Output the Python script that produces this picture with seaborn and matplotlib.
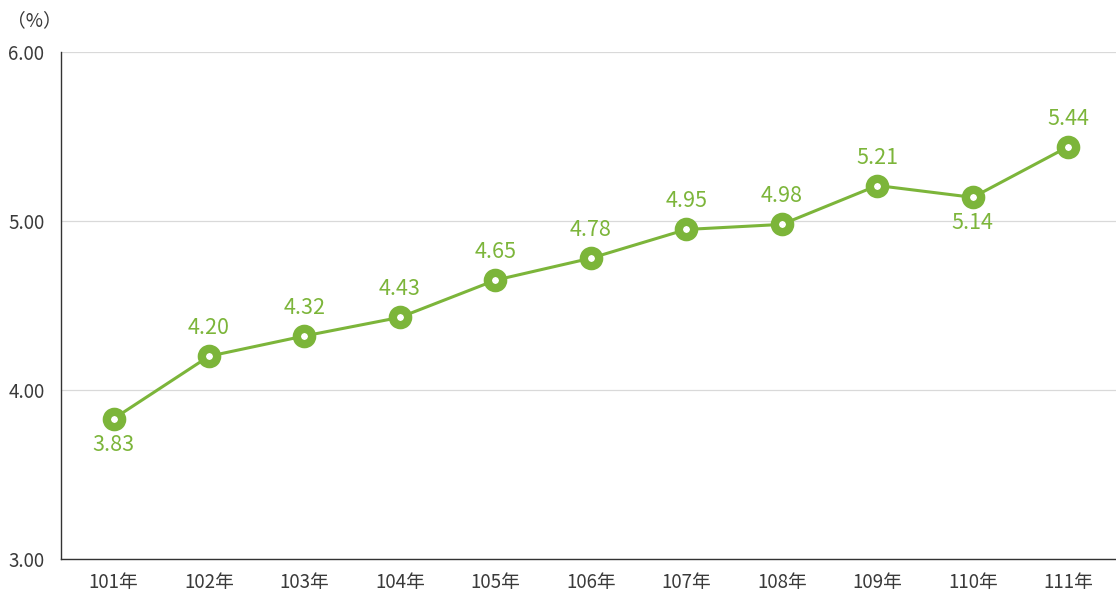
import pandas as pd
import seaborn as sns
import matplotlib.pyplot as plt

# data
years = ["101年", "102年", "103年", "104年", "105年", "106年",
         "107年", "108年", "109年", "110年", "111年"]
rates = [3.83, 4.20, 4.32, 4.43, 4.65, 4.78, 4.95, 4.98, 5.21, 5.14, 5.44]
below = ["101年", "110年"]  # labels drawn under the marker

df = pd.DataFrame({"year": years, "rate": rates})
df["x"] = range(len(df))

green = "#7cb53a"
grey = "#3a3a3a"

sns.set_theme(style="white")
plt.rcParams["font.family"] = ["Noto Sans CJK TC", "DejaVu Sans"]

fig = plt.figure(figsize=(11.16, 5.93), dpi=100)
ax = fig.add_axes([0.0547, 0.0573, 0.9453, 0.855])

sns.lineplot(data=df, x="x", y="rate", ax=ax, color=green, linewidth=2.2,
             marker="o", markersize=11, markerfacecolor="white",
             markeredgecolor=green, markeredgewidth=6)

for _, r in df.iterrows():
    off = -26 if r["year"] in below else 28
    ax.annotate(f"{r['rate']:.2f}", (r["x"], r["rate"]), xytext=(0, off),
                textcoords="offset pixels",
                ha="center", va="center", fontsize=15.5, color=green)

ax.set_ylim(3.0, 6.0)
ax.set_yticks([3.0, 4.0, 5.0, 6.0])
ax.set_yticklabels(["3.00", "4.00", "5.00", "6.00"], fontsize=13.5, color=grey)
ax.set_xlim(-0.55, 10.5)
ax.set_xticks(df["x"])
ax.set_xticklabels(years, fontsize=13.5, color=grey)
ax.tick_params(axis="both", length=0)
ax.tick_params(axis="x", pad=9)
ax.tick_params(axis="y", pad=12)
ax.set_xlabel("")
ax.set_ylabel("")

ax.grid(axis="y", color="#d9d9d9", linewidth=0.9)
ax.set_axisbelow(True)
for s in ["top", "right"]:
    ax.spines[s].set_visible(False)
for s in ["left", "bottom"]:
    ax.spines[s].set_color("#333333")
    ax.spines[s].set_linewidth(1.0)

fig.text(0.006, 0.965, "（%）", fontsize=13.5, color=grey, ha="left", va="center")

fig.savefig("out.png", dpi=100)
